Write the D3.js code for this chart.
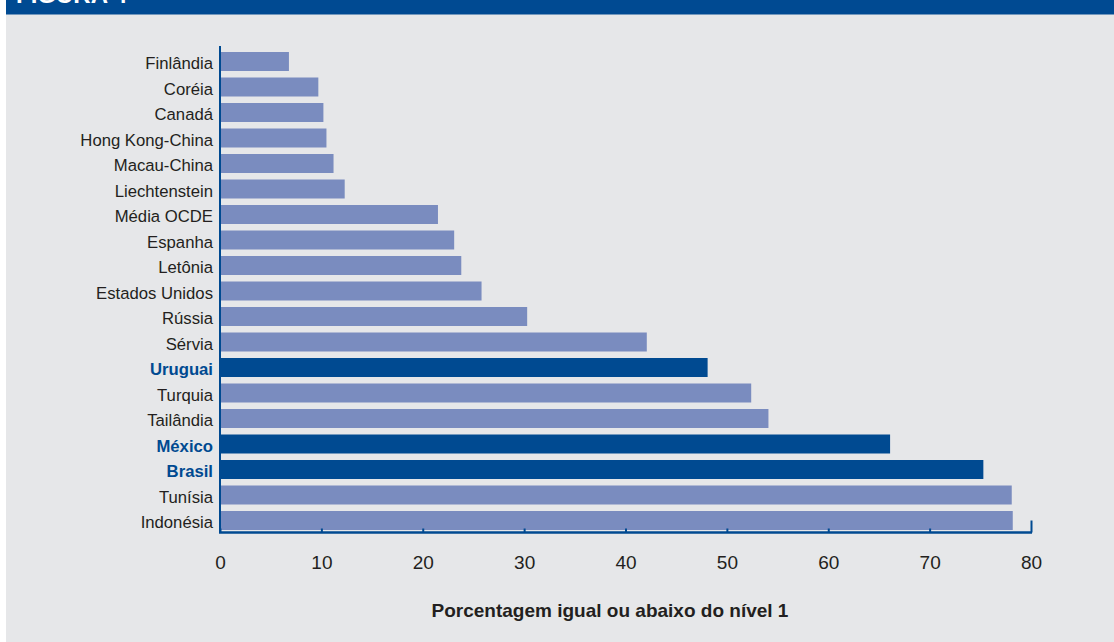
<!DOCTYPE html>
<html>
<head>
<meta charset="utf-8">
<script src="https://cdn.jsdelivr.net/npm/d3@7"></script>
<style>
  html, body { margin: 0; padding: 0; background: #ffffff; }
  svg { display: block; }
</style>
</head>
<body>
<svg id="chart" width="1114" height="642"></svg>
<script>
const categories = ["Finlândia","Coréia","Canadá","Hong Kong-China","Macau-China","Liechtenstein","Média OCDE","Espanha","Letônia","Estados Unidos","Rússia","Sérvia","Uruguai","Turquia","Tailândia","México","Brasil","Tunísia","Indonésia"];
const values = [6.8, 9.7, 10.2, 10.5, 11.2, 12.3, 21.5, 23.1, 23.8, 25.8, 30.3, 42.1, 48.1, 52.4, 54.1, 66.1, 75.3, 78.1, 78.2];
const highlighted = ["Uruguai","México","Brasil"];
const xTicks = [0, 10, 20, 30, 40, 50, 60, 70, 80];
const title = "FIGURA 4";
const xTitle = "Porcentagem igual ou abaixo do nível 1";

const W = 1114, H = 642;
const svg = d3.select("#chart");
const font = "'Liberation Sans', Arial, Helvetica, sans-serif";
const dark = "#004a91", light = "#7a8cbf", textCol = "#231f20";

// panel background
svg.append("rect").attr("x", 6).attr("y", 0).attr("width", W - 6).attr("height", H).attr("fill", "#e6e7e9");
// header band
svg.append("rect").attr("x", 6).attr("y", 0).attr("width", W - 6).attr("height", 14.5).attr("fill", "#004a92");
svg.append("text").attr("x", 16).attr("y", 3).attr("fill", "#ffffff")
  .attr("font-family", font).attr("font-weight", "bold").attr("font-size", 24)
  .text(title);

const x = d3.scaleLinear().domain([0, 80]).range([220, 1031]);
const y = d3.scaleBand().domain(categories).range([48.75, 533.25]).paddingInner(0.255).paddingOuter(0.1275);

const data = categories.map((c, i) => ({ c, v: values[i] }));

svg.append("g").selectAll("rect").data(data).join("rect")
  .attr("x", x(0) + 1)
  .attr("y", d => y(d.c))
  .attr("width", d => x(d.v) - x(0) - 1)
  .attr("height", y.bandwidth())
  .attr("fill", d => highlighted.includes(d.c) ? dark : light);

// y axis
const yAxis = svg.append("g").attr("transform", `translate(${x(0)},0)`)
  .call(d3.axisLeft(y).tickSize(0).tickPadding(7));
yAxis.select(".domain").attr("d", "M0,46V533").attr("stroke", dark).attr("stroke-width", 2);
yAxis.selectAll("text")
  .attr("font-family", font).attr("font-size", 16.7).attr("dy", "0.46em")
  .attr("fill", d => highlighted.includes(d) ? dark : textCol)
  .attr("font-weight", d => highlighted.includes(d) ? "bold" : "normal");

// x axis
const xAxis = svg.append("g").attr("transform", "translate(0,532.5)")
  .call(d3.axisBottom(x).tickValues(xTicks).tickSizeInner(-4).tickSizeOuter(0).tickPadding(23));
xAxis.select(".domain").attr("stroke", dark).attr("stroke-width", 2.5).attr("d", `M${x(0) - 1},0H${x(80) + 1}`);
xAxis.selectAll(".tick line").attr("stroke", dark).attr("stroke-width", 2)
  .attr("y2", d => d === 80 ? -12 : -4);
xAxis.selectAll(".tick text").attr("font-family", font).attr("font-size", 19).attr("fill", textCol);

svg.append("text").attr("x", 610).attr("y", 617).attr("text-anchor", "middle")
  .attr("font-family", font).attr("font-weight", "bold").attr("font-size", 19).attr("fill", textCol)
  .text(xTitle);
</script>
</body>
</html>
